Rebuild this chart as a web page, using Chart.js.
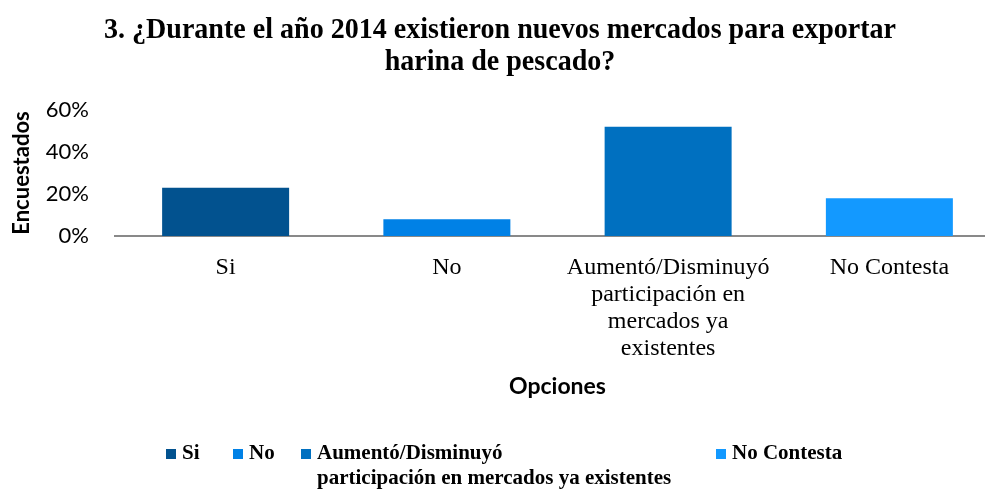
<!DOCTYPE html>
<html>
<head>
<meta charset="utf-8">
<script src="https://cdn.jsdelivr.net/npm/chart.js@4.4.1/dist/chart.umd.min.js"></script>
<style>
    html, body { margin: 0; padding: 0; background: #fff; overflow: hidden; }
    /* plot runs a little past the right edge of the page, so the canvas is wider than the view */
    #wrap { width: 1000px; height: 489px; position: relative; }
</style>
</head>
<body>
<div id="wrap"><canvas id="encuestaChart"></canvas></div>
<script>
// Survey answers (percent of respondents)
const categories = ['Si', 'No', ['Aumentó/Disminuyó', 'participación en', 'mercados ya', 'existentes'], 'No Contesta'];
const percentages = [23, 8, 52, 18];
const barColors = ['#02528F', '#0081E6', '#0070C0', '#1399FF'];
const legendLabels = [['Si'], ['No'], ['Aumentó/Disminuyó', 'participación en mercados ya existentes'], ['No Contesta']];
const titleLines = ['3. ¿Durante el año 2014 existieron nuevos mercados para exportar', 'harina de pescado?'];
const yTicks = [0, 20, 40, 60];

const serif = '"Liberation Serif", "Times New Roman", serif';
const sans = 'Lato, "Open Sans", sans-serif';

// Bold, slightly condensed heading drawn above the plot
const headingPlugin = {
    id: 'heading',
    afterDraw(chart) {
        const ctx = chart.ctx;
        ctx.save();
        ctx.fillStyle = '#000';
        ctx.font = 'bold 30px ' + serif;
        ctx.textAlign = 'center';
        ctx.textBaseline = 'alphabetic';
        const baselines = [38, 70];
        titleLines.forEach((line, i) => {
            ctx.save();
            ctx.translate(500, baselines[i]);
            ctx.scale(0.935, 1);
            ctx.fillText(line, 0, 0);
            ctx.restore();
        });
        ctx.restore();
    }
};

// Legend row under the axis title, one entry per category
const legendPlugin = {
    id: 'categoryLegend',
    afterDraw(chart) {
        const ctx = chart.ctx;
        const xs = [166, 233, 301, 716];
        const top = 454;
        const lineGap = 25;
        ctx.save();
        ctx.font = 'bold 21px ' + serif;
        ctx.textBaseline = 'middle';
        ctx.textAlign = 'left';
        legendLabels.forEach((lines, i) => {
            ctx.fillStyle = barColors[i];
            ctx.fillRect(xs[i], top - 5, 10, 10);
            ctx.fillStyle = '#000';
            lines.forEach((txt, j) => {
                ctx.fillText(txt, xs[i] + 16, top + j * lineGap);
            });
        });
        ctx.restore();
    }
};

const ctx = document.getElementById('encuestaChart').getContext('2d');
new Chart(ctx, {
    type: 'bar',
    data: {
        labels: categories,
        datasets: [{
            data: percentages,
            backgroundColor: barColors,
            borderWidth: 0,
            barPercentage: 1,
            categoryPercentage: 0.574
        }]
    },
    options: {
        responsive: true,
        maintainAspectRatio: false,
        animation: false,
        layout: {
            padding: { top: 110, left: 0, right: 0, bottom: 89 }
        },
        plugins: {
            legend: { display: false },
            title: { display: false },
            tooltip: { enabled: false }
        },
        scales: {
            y: {
                min: 0,
                max: 60,
                afterBuildTicks(scale) {
                    scale.ticks = yTicks.map(v => ({ value: v }));
                },
                afterFit(scale) {
                    scale.width = 115;
                },
                ticks: {
                    color: '#000',
                    padding: 26,
                    font: { family: sans, size: 22 },
                    callback: v => v + '%'
                },
                grid: { display: false, drawTicks: false },
                border: { display: false },
                title: {
                    display: true,
                    text: 'Encuestados',
                    color: '#000',
                    font: { family: sans, size: 22, weight: 'bold' },
                    padding: { top: 9, bottom: 0 }
                }
            },
            x: {
                afterFit(scale) {
                    // room for the four-line category label plus the axis title
                    scale.height = 164;
                },
                ticks: {
                    color: '#000',
                    padding: 18,
                    maxRotation: 0,
                    autoSkip: false,
                    font: { family: serif, size: 24, lineHeight: 1.13 }
                },
                grid: { display: false, drawTicks: false },
                border: { display: true, color: '#898989', width: 2 },
                title: {
                    display: true,
                    text: 'Opciones',
                    color: '#000',
                    font: { family: sans, size: 23, weight: 'bold' },
                    padding: { top: 20, bottom: 0 }
                }
            }
        }
    },
    plugins: [headingPlugin, legendPlugin]
});
</script>
</body>
</html>
